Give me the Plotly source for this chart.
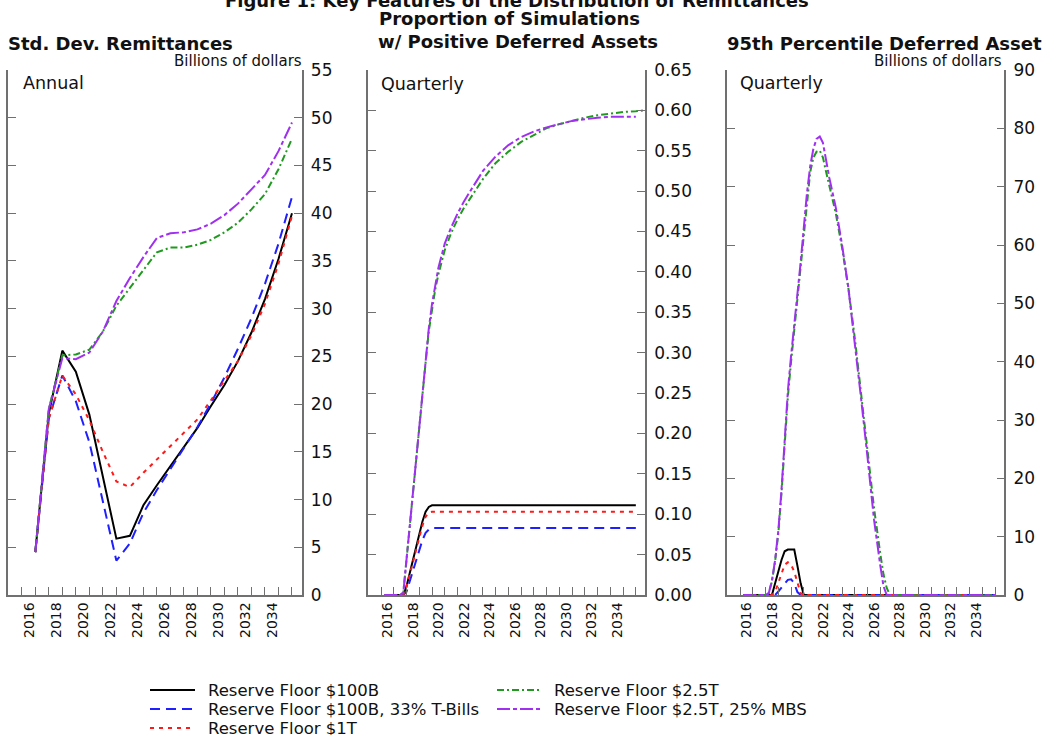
import plotly.graph_objects as go

W, H = 1045, 735

# ---------------- data ----------------
series_names = ["Reserve Floor $100B", "Reserve Floor $100B, 33% T-Bills", "Reserve Floor $1T",
                "Reserve Floor $2.5T", "Reserve Floor $2.5T, 25% MBS"]
series_colors = ["#000000", "#1f1fff", "#ff1a1a", "#1f9a1f", "#a030f0"]
series_dash = ["solid", "10px,6px", "4px,5px", "7px,3px,2px,3px", "13px,3px,4px,3px"]

# Panel 1: Std. Dev. Remittances (annual, billions of dollars)
years_annual = list(range(2016, 2036))
sd_100b = [4.5, 19.0, 25.6, 23.4, 18.9, 12.4, 5.9, 6.2, 9.4, 11.5, 13.5, 15.5, 17.5, 19.8, 22.0, 24.5, 27.5, 31.0, 35.2, 40.0]
sd_100b_tb = [4.5, 18.5, 23.0, 20.3, 16.0, 9.8, 3.6, 5.4, 8.6, 11.0, 13.2, 15.4, 17.6, 20.1, 22.8, 25.8, 29.0, 32.6, 36.8, 41.7]
sd_1t = [4.5, 18.5, 23.0, 21.0, 18.3, 15.0, 11.9, 11.3, 12.8, 14.2, 15.5, 16.9, 18.4, 20.4, 22.4, 24.5, 27.2, 30.5, 34.7, 39.7]
sd_25t = [4.5, 19.5, 25.1, 25.2, 25.7, 27.6, 30.3, 32.2, 34.1, 35.9, 36.4, 36.4, 36.7, 37.2, 38.0, 39.0, 40.4, 42.0, 44.6, 47.8]
sd_25t_mbs = [4.5, 19.5, 24.8, 24.7, 25.4, 27.6, 30.8, 33.2, 35.4, 37.4, 37.9, 38.0, 38.3, 38.9, 39.8, 41.0, 42.5, 44.0, 46.5, 49.5]

# Panel 2: Proportion of simulations with positive deferred assets (quarterly)
prop_x = [2015.25, 2016.5, 2016.75, 2017.0, 2017.5, 2018.0, 2018.25, 2018.5, 2018.75, 2019.0, 2019.25,
          2019.5, 2020.0, 2020.5, 2021.0, 2021.5, 2022.0, 2023.0, 2024.0, 2025.0, 2026.0, 2027.0,
          2028.0, 2029.0, 2030.0, 2031.0, 2032.0, 2033.0, 2034.0, 2035.0, 2035.7]
prop_100b = [0, 0, 0, 0.011, 0.043, 0.075, 0.091, 0.103, 0.109, 0.111, 0.111,
             0.111, 0.111, 0.111, 0.111, 0.111, 0.111, 0.111, 0.111, 0.111, 0.111, 0.111,
             0.111, 0.111, 0.111, 0.111, 0.111, 0.111, 0.111, 0.111, None]
prop_100b_tb = [0, 0, 0, 0.004, 0.030, 0.056, 0.068, 0.077, 0.081, 0.083, 0.083,
                0.083, 0.083, 0.083, 0.083, 0.083, 0.083, 0.083, 0.083, 0.083, 0.083, 0.083,
                0.083, 0.083, 0.083, 0.083, 0.083, 0.083, 0.083, 0.083, None]
prop_1t = [0, 0, 0, 0.010, 0.040, 0.070, 0.086, 0.097, 0.102, 0.103, 0.103,
           0.103, 0.103, 0.103, 0.103, 0.103, 0.103, 0.103, 0.103, 0.103, 0.103, 0.103,
           0.103, 0.103, 0.103, 0.103, 0.103, 0.103, 0.103, 0.103, None]
prop_25t = [0, 0, 0.003, 0.045, 0.127, 0.208, 0.248, 0.288, 0.327, 0.355, 0.378,
            0.397, 0.427, 0.448, 0.465, 0.479, 0.491, 0.515, 0.535, 0.549, 0.561, 0.570,
            0.578, 0.583, 0.587, 0.591, 0.594, 0.596, 0.598, 0.599, 0.600]
prop_25t_mbs = [0, 0, 0.003, 0.045, 0.127, 0.210, 0.250, 0.290, 0.330, 0.360, 0.385,
                0.405, 0.435, 0.455, 0.472, 0.487, 0.500, 0.525, 0.543, 0.557, 0.567, 0.574,
                0.579, 0.583, 0.587, 0.589, 0.591, 0.592, 0.592, 0.592, None]

# Panel 3: 95th percentile deferred asset (quarterly, billions of dollars)
da_x = [2015.25, 2017.0, 2017.25, 2017.5, 2017.75, 2018.0, 2018.25, 2018.5, 2018.75, 2019.0, 2019.25,
        2019.5, 2019.75, 2020.0, 2020.25, 2020.5, 2020.75, 2021.0, 2021.25, 2021.5, 2021.75, 2022.0,
        2022.5, 2023.0, 2023.5, 2024.0, 2024.5, 2025.0, 2025.5, 2026.0, 2026.25, 2026.5, 2026.75,
        2027.0, 2035.0]
da_100b = [0, 0, 0, 0, 2.0, 4.0, 6.0, 7.5, 7.8, 7.8, 7.8,
           5.0, 2.0, 0, 0, 0, 0, 0, 0, 0, 0, 0,
           0, 0, 0, 0, 0, 0, 0, 0, 0, 0, 0, 0, 0]
da_100b_tb = [0, 0, 0, 0, 0, 0.6, 1.3, 2.1, 2.6, 2.7, 2.0,
              0.5, 0, 0, 0, 0, 0, 0, 0, 0, 0, 0,
              0, 0, 0, 0, 0, 0, 0, 0, 0, 0, 0, 0, 0]
da_1t = [0, 0, 0, 0, 0.5, 2.0, 3.8, 5.2, 5.6, 5.2, 4.0,
         2.0, 0.3, 0, 0, 0, 0, 0, 0, 0, 0, 0,
         0, 0, 0, 0, 0, 0, 0, 0, 0, 0, 0, 0, 0]
da_25t = [0, 0, 0.3, 2.3, 5.8, 10.5, 17.5, 26.5, 34.0, 40.0, 45.5,
          51.0, 56.5, 62.0, 68.0, 72.5, 75.0, 76.0, 76.2, 75.0, 72.5, 70.0,
          65.5, 59.5, 52.5, 44.0, 34.5, 25.0, 15.0, 7.0, 3.5, 1.2, 0, 0, 0]
da_25t_mbs = [0, 0, 0.3, 2.5, 6.0, 11.0, 18.0, 27.0, 35.0, 41.0, 46.0,
              51.5, 57.0, 63.0, 69.0, 73.5, 76.5, 78.2, 78.6, 77.5, 74.5, 71.5,
              66.5, 60.0, 52.5, 43.5, 33.5, 23.5, 13.0, 5.0, 1.5, 0, 0, 0, 0]

x_tick_years = list(range(2015, 2036))
x_tick_labels = [str(y) if (y % 2 == 0 and 2016 <= y <= 2034) else "" for y in x_tick_years]
sd_ticks = list(range(0, 56, 5))
prop_ticks = [round(0.05 * i, 2) for i in range(14)]
da_ticks = list(range(0, 91, 10))

# ---------------- figure ----------------
FONT = "DejaVu Sans"
fig = go.Figure()

panels = [
    ("x", "y", years_annual, [sd_100b, sd_100b_tb, sd_1t, sd_25t, sd_25t_mbs]),
    ("x2", "y2", prop_x, [prop_100b, prop_100b_tb, prop_1t, prop_25t, prop_25t_mbs]),
    ("x3", "y3", da_x, [da_100b, da_100b_tb, da_1t, da_25t, da_25t_mbs]),
]
for xa, ya, xs, ys_list in panels:
    for name, color, dash, ys in zip(series_names, series_colors, series_dash, ys_list):
        fig.add_trace(go.Scatter(x=xs, y=ys, mode="lines", name=name, showlegend=False,
                                 line=dict(color=color, width=2, dash=dash),
                                 xaxis=xa, yaxis=ya, connectgaps=False))


def px(v):
    return v / W


def py(v):
    return 1 - v / H


axis_color = "#707070"
xcommon = dict(range=[2014.0, 2035.72], tickmode="array", tickvals=x_tick_years, ticktext=x_tick_labels,
               ticks="inside", ticklen=8, tickwidth=1.3, tickcolor=axis_color, showline=True,
               linecolor=axis_color, linewidth=1.5, showgrid=False, zeroline=False, tickangle=-90,
               tickfont=dict(family=FONT, size=14, color="#111"), ticklabelshift=-6, mirror=False,
               automargin=False)
ycommon = dict(side="right", mirror="ticks", ticks="inside", ticklen=8, tickwidth=1.3,
               tickcolor=axis_color, showline=True, linecolor=axis_color, linewidth=1.5,
               showgrid=False, zeroline=False, tickfont=dict(family=FONT, size=17, color="#111"),
               ticklabelstandoff=4, automargin=False)

ydom = [py(595), py(70)]
fig.update_layout(
    xaxis=dict(domain=[px(8.3), px(301.7)], anchor="y", **xcommon),
    xaxis2=dict(domain=[px(368.3), px(645)], anchor="y2", **xcommon),
    xaxis3=dict(domain=[px(727.3), px(1004.3)], anchor="y3", **xcommon),
    yaxis=dict(domain=ydom, anchor="x", range=[0, 55], tickmode="array", tickvals=sd_ticks, **ycommon),
    yaxis2=dict(domain=ydom, anchor="x2", range=[0, 0.65], tickmode="array", tickvals=prop_ticks,
                tickformat=".2f", **ycommon),
    yaxis3=dict(domain=ydom, anchor="x3", range=[0, 90], tickmode="array", tickvals=da_ticks, **ycommon),
)

annotations = []


def txt(text, x, ycenter, size, bold=False, xanchor="left"):
    annotations.append(dict(text=("<b>%s</b>" % text) if bold else text, x=px(x), y=py(ycenter),
                            xref="paper", yref="paper", xanchor=xanchor, yanchor="middle",
                            showarrow=False,
                            font=dict(family=FONT, size=size, color="#111")))


txt("Figure 1: Key Features of the Distribution of Remittances", 517, 0.5, 18, bold=True, xanchor="center")
txt("Std. Dev. Remittances", 6, 43.5, 18, bold=True)
txt("Proportion of Simulations", 377, 18.5, 18, bold=True)
txt("w/ Positive Deferred Assets", 376, 41.8, 18, bold=True)
txt("95th Percentile Deferred Asset", 725, 43.5, 18, bold=True)
txt("Billions of dollars", 304, 61, 15, xanchor="right")
txt("Billions of dollars", 1004, 61, 15, xanchor="right")
txt("Annual", 21, 83, 17.5)
txt("Quarterly", 379, 84, 17.5)
txt("Quarterly", 738, 83, 17.5)

# manual legend (two columns)
legend_slots = [(150, 195, 208, 690), (150, 195, 208, 709), (150, 195, 208, 728),
                (497, 540, 554, 690), (497, 540, 554, 709)]
shapes = []
for idx, (x0, x1, xt, yc) in enumerate(legend_slots):
    shapes.append(dict(type="line", xref="paper", yref="paper", x0=px(x0), x1=px(x1), y0=py(yc), y1=py(yc),
                       line=dict(color=series_colors[idx], width=2, dash=series_dash[idx])))
    txt(series_names[idx], xt - 2, yc, 16.5)

fig.update_layout(width=W, height=H, margin=dict(l=0, r=0, t=0, b=0, autoexpand=False),
                  paper_bgcolor="white", plot_bgcolor="white", showlegend=False,
                  annotations=annotations, shapes=shapes)

fig.write_html("out.html", config={"displayModeBar": False},
               post_script="document.body.style.margin='0';document.body.style.overflow='hidden';")
